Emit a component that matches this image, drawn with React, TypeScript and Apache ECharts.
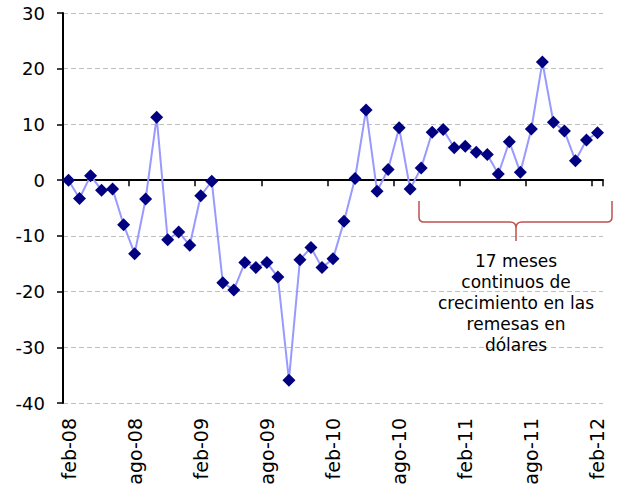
import React, { useEffect, useRef } from "react";
import * as echarts from "echarts";

const months = [
  "feb-08","mar-08","abr-08","may-08","jun-08","jul-08","ago-08","sep-08","oct-08","nov-08","dic-08","ene-09",
  "feb-09","mar-09","abr-09","may-09","jun-09","jul-09","ago-09","sep-09","oct-09","nov-09","dic-09","ene-10",
  "feb-10","mar-10","abr-10","may-10","jun-10","jul-10","ago-10","sep-10","oct-10","nov-10","dic-10","ene-11",
  "feb-11","mar-11","abr-11","may-11","jun-11","jul-11","ago-11","sep-11","oct-11","nov-11","dic-11","ene-12",
  "feb-12",
];

const remesas = [
  0, -3.3, 0.8, -1.8, -1.6, -8.0, -13.2, -3.4, 11.3, -10.7, -9.3, -11.7,
  -2.8, -0.2, -18.4, -19.7, -14.8, -15.7, -14.8, -17.4, -35.9, -14.3, -12.1, -15.7,
  -14.1, -7.4, 0.3, 12.6, -2.0, 1.9, 9.4, -1.6, 2.2, 8.6, 9.1, 5.8,
  6.1, 5.0, 4.6, 1.1, 6.9, 1.4, 9.2, 21.2, 10.4, 8.8, 3.5, 7.2,
  8.5,
];

const annotation = "17 meses\ncontinuos de\ncrecimiento en las\nremesas en\ndólares";

const braceD =
  "M0 0 L0 16 Q0 21 5 21 L91 21 Q97 21 97 27 L97 40 L97 27 Q97 21 103 21 L188 21 Q193 21 193 16 L193 0";

let registered = false;

export default function App() {
  const ref = useRef<HTMLDivElement>(null);
  useEffect(() => {
    if (!ref.current) return;
    if (!registered) {
      echarts.graphic.registerShape("brace", echarts.graphic.extendPath(braceD, {}) as any);
      registered = true;
    }
    const chart = echarts.init(ref.current, undefined, { renderer: "svg" });
    const font = "DejaVu Sans";
    chart.setOption({
      animation: false,
      backgroundColor: "#ffffff",
      grid: { left: 63, right: 21, top: 13, bottom: 87, containLabel: false },
      xAxis: [
        {
          type: "category",
          data: months,
          position: "bottom",
          boundaryGap: true,
          axisLine: { show: false, onZero: false },
          axisTick: { show: false },
          splitLine: { show: false },
          axisLabel: {
            interval: 5,
            rotate: 90,
            margin: 15,
            color: "#000",
            fontFamily: font,
            fontSize: 19,
          },
        },
        {
          type: "category",
          data: months,
          position: "top",
          boundaryGap: true,
          axisLine: { show: true, onZero: true, lineStyle: { color: "#000", width: 2 } },
          axisTick: {
            show: true,
            interval: 5,
            inside: true,
            length: 6,
            alignWithLabel: false,
            lineStyle: { color: "#000", width: 1.5 },
          },
          axisLabel: { show: false },
          splitLine: { show: false },
        },
      ],
      yAxis: {
        type: "value",
        min: -40,
        max: 30,
        interval: 10,
        axisLine: { show: true, lineStyle: { color: "#000", width: 2 } },
        axisTick: { show: true, length: 6, lineStyle: { color: "#000", width: 1.5 } },
        axisLabel: { color: "#000", fontFamily: font, fontSize: 18, margin: 18 },
        splitLine: { show: true, lineStyle: { color: "#c0c0c0", type: [5, 3], width: 1 } },
      },
      series: [
        {
          type: "line",
          data: remesas,
          xAxisIndex: 0,
          symbol: "diamond",
          symbolSize: 13,
          showSymbol: true,
          showAllSymbol: true,
          itemStyle: { color: "#000080" },
          lineStyle: { color: "#9999ff", width: 2 },
          z: 5,
        },
      ],
      graphic: [
        {
          type: "brace",
          x: 419,
          y: 201,
          style: { stroke: "#c0504d", fill: "none", lineWidth: 1.5 },
          z: 10,
        },
        {
          type: "text",
          x: 516,
          y: 250,
          style: {
            text: annotation,
            fill: "#000",
            font: `17px "${font}"`,
            align: "center",
            verticalAlign: "top",
            lineHeight: 21,
          },
          z: 10,
        },
      ],
    });
    return () => chart.dispose();
  }, []);
  return (
    <div
      ref={ref}
      style={{ position: "fixed", left: 0, top: 0, width: 624, height: 490 }}
    />
  );
}
